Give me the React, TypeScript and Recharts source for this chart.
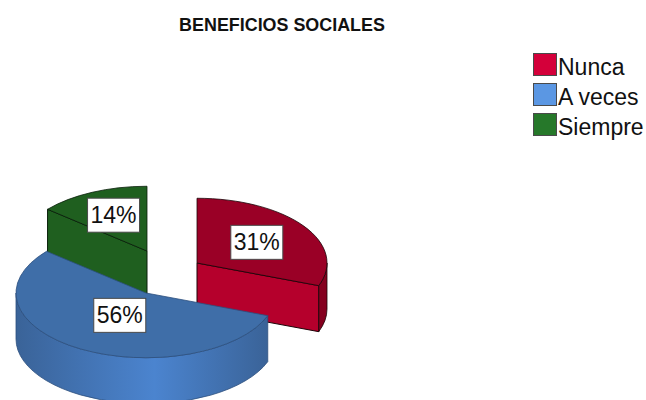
import React from 'react';
import { PieChart, Pie, Legend } from 'recharts';

const categories = ['Nunca', 'A veces', 'Siempre'];
const shares = [31, 56, 14];

// Back slices have to paint first so the blue slice can overlap them
const paintOrder = [2, 0, 1];

const WIDTH = 646;
const HEIGHT = 400;
const TILT = 0.498;
const DEPTH = 46;

const sliceStyles: Record<string, any> = {
  Nunca: { dx: 51, dy: -30, top: '#9a0026', cut: '#b5002c', wall: '#85001f', stroke: '#1c0509', swatch: '#d4003a', labelAt: 0.56 },
  'A veces': { dx: 0, dy: 0, top: '#3f6ea8', cut: '#3f6ea8', wall: 'url(#blueWall)', stroke: '#2c4f7e', swatch: '#5b97e3', labelAt: 0.4 },
  Siempre: { dx: 1, dy: -42, top: '#1f5f1f', cut: '#1f5f1f', wall: '#1f5f1f', stroke: '#0a1f0b', swatch: '#26782a', labelAt: 0.61 },
};

const total = shares.reduce((a, b) => a + b, 0);
const pieData = paintOrder.map((i) => ({ name: categories[i], value: shares[i] }));
const startAngle = 90 + (shares[2] / total) * 360;

const rad = (deg: number) => (deg * Math.PI) / 180;

// Sector drawn as a squashed wedge with a wall below its rim
const Wedge3D = (props: any) => {
  const { cx, cy, outerRadius, startAngle: a0, endAngle: a1, name } = props;
  const s = sliceStyles[name];
  const ox = cx + s.dx;
  const oy = cy + s.dy;
  const rx = outerRadius;
  const ry = outerRadius * TILT;
  const px = (a: number) => ox + rx * Math.cos(rad(a));
  const py = (a: number) => oy - ry * Math.sin(rad(a));
  const large = a0 - a1 > 180 ? 1 : 0;

  const top = `M${ox},${oy} L${px(a0)},${py(a0)} A${rx},${ry} 0 ${large} 1 ${px(a1)},${py(a1)} Z`;

  // rim wall only shows on the lower half of the ellipse
  const w0 = Math.min(a0, 0);
  const w1 = Math.max(a1, -180);
  const wall =
    w0 > w1
      ? `M${px(w0)},${py(w0)} A${rx},${ry} 0 0 1 ${px(w1)},${py(w1)} L${px(w1)},${py(w1) + DEPTH} A${rx},${ry} 0 0 0 ${px(w0)},${py(w0) + DEPTH} Z`
      : null;

  // cut faces that turn towards the viewer
  const cutFace = (a: number) =>
    `M${ox},${oy} L${px(a)},${py(a)} L${px(a)},${py(a) + DEPTH} L${ox},${oy + DEPTH} Z`;
  const cuts: string[] = [];
  if (Math.sin(rad(a0 + 90)) < -0.01) cuts.push(cutFace(a0));
  if (Math.sin(rad(a1 - 90)) < -0.01) cuts.push(cutFace(a1));

  return (
    <g>
      {cuts.map((d) => (
        <path key={d} d={d} fill={s.cut} stroke={s.stroke} strokeWidth={1} />
      ))}
      {wall && <path d={wall} fill={s.wall} stroke={s.stroke} strokeWidth={0.8} />}
      <path d={top} fill={s.top} stroke={s.stroke} strokeWidth={0.8} />
    </g>
  );
};

const renderLabel = (props: any) => {
  const { cx, cy, outerRadius, midAngle, name, value } = props;
  const s = sliceStyles[name];
  const x = cx + s.dx + s.labelAt * outerRadius * Math.cos(rad(midAngle));
  const y = cy + s.dy - s.labelAt * outerRadius * TILT * Math.sin(rad(midAngle));
  return (
    <g key={name}>
      <rect x={x - 26} y={y - 17} width={52} height={34} fill="#ffffff" stroke="#4a4a4a" strokeWidth={1} />
      <text x={x} y={y + 8} textAnchor="middle" fontFamily="Liberation Sans" fontSize={23} fill="#111111">
        {`${value}%`}
      </text>
    </g>
  );
};

const renderLegend = () => (
  <div style={{ fontFamily: 'Liberation Sans', fontSize: 23, color: '#111111' }}>
    {categories.map((name) => (
      <div key={name} style={{ display: 'flex', alignItems: 'center', height: 30 }}>
        <span
          style={{
            display: 'block',
            boxSizing: 'border-box',
            width: 24,
            height: 23,
            marginRight: 1,
            background: sliceStyles[name].swatch,
            border: '1.5px solid #4a4a4a',
          }}
        />
        <span style={{ position: 'relative', top: 3 }}>{name}</span>
      </div>
    ))}
  </div>
);

export default function App() {
  return (
    <div style={{ position: 'absolute', left: 0, top: 0, width: WIDTH, height: HEIGHT, overflow: 'hidden', background: '#ffffff' }}>
      <PieChart width={WIDTH} height={HEIGHT} margin={{ top: 0, right: 0, bottom: 0, left: 0 }}>
        <defs>
          <linearGradient id="blueWall" x1="0" y1="0" x2="1" y2="0">
            <stop offset="0" stopColor="#3a6398" />
            <stop offset="0.55" stopColor="#4b84cf" />
            <stop offset="1" stopColor="#3a6398" />
          </linearGradient>
        </defs>
        <text x={282} y={30.5} textAnchor="middle" fontFamily="Liberation Sans" fontWeight="bold" fontSize={17.9} fill="#111111">
          BENEFICIOS SOCIALES
        </text>
        <Pie
          data={pieData}
          dataKey="value"
          nameKey="name"
          cx={146}
          cy={293}
          outerRadius={130}
          startAngle={startAngle}
          endAngle={startAngle - 360}
          paddingAngle={0}
          shape={Wedge3D}
          label={renderLabel}
          labelLine={false}
          isAnimationActive={false}
        />
        <Legend content={renderLegend} layout="vertical" wrapperStyle={{ left: 533, top: 49, width: 113 }} />
      </PieChart>
    </div>
  );
}
